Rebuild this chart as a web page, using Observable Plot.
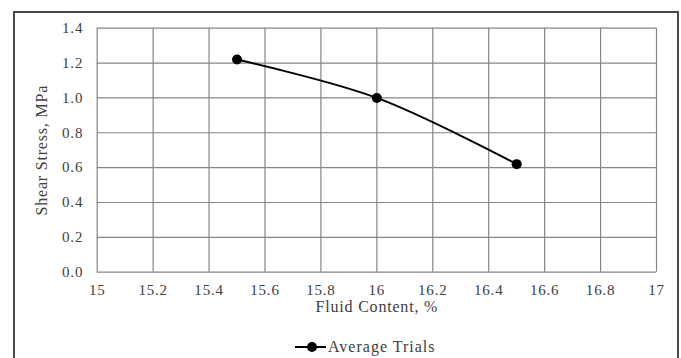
<!DOCTYPE html>
<html>
<head>
<meta charset="utf-8">
<script src="https://cdn.jsdelivr.net/npm/d3@7"></script>
<script src="https://cdn.jsdelivr.net/npm/@observablehq/plot@0.6"></script>
<style>
  body { margin: 0; background: #fff; }
  #wrap { position: relative; width: 681px; height: 358px; overflow: hidden;
          font-family: "Liberation Serif", "Times New Roman", serif; color: #404040; }
  #frame { position: absolute; left: 13px; top: 11px; width: 666px; height: 400px;
           border: 2px solid #4a4a4a; box-sizing: border-box; }
  #chart { position: absolute; left: 0; top: 0; }
  #legend { position: absolute; left: 295px; top: 337px; font-size: 16px; line-height: 20px;
            letter-spacing: 1px;
            font-family: "Liberation Serif", "Times New Roman", serif;
            display: flex; align-items: center; }
  #legend .sw { position: relative; width: 31px; height: 20px; margin-right: 2px; }
  #legend .sw .ln { position: absolute; left: 0; right: 0; top: 9px; height: 2px; background: #000; }
  #legend .sw .pt { position: absolute; left: 12px; top: 5px; width: 10px; height: 10px;
                    border-radius: 50%; background: #000; }
</style>
</head>
<body>
<div id="wrap">
  <div id="frame"></div>
  <div id="chart"></div>
  <div id="legend"><div class="sw"><div class="ln"></div><div class="pt"></div></div><span id="legendText"></span></div>
</div>
<script>
// Average trial results: fluid content (%) against shear stress (MPa)
const fluidContent = [15.5, 16.0, 16.5];
const shearStress = [1.22, 1.00, 0.62];
const seriesName = "Average Trials";

// Axis ticks
const xTicks = [15, 15.2, 15.4, 15.6, 15.8, 16, 16.2, 16.4, 16.6, 16.8, 17];
const yTicks = [0, 0.2, 0.4, 0.6, 0.8, 1.0, 1.2, 1.4];
const xTitle = "Fluid Content, %";
const yTitle = "Shear Stress, MPa";

const data = fluidContent.map((x, i) => ({x, y: shearStress[i]}));

const chart = Plot.plot({
  width: 681,
  height: 358,
  marginLeft: 96.7,
  marginRight: 25,
  marginTop: 27.7,
  marginBottom: 86.3,
  style: { fontSize: "15px", letterSpacing: "0.8px", fontFamily: "'Liberation Serif', 'Times New Roman', serif", color: "#404040", background: "transparent" },
  x: { domain: [15, 17] },
  y: { domain: [0, 1.4] },
  marks: [
    Plot.gridX(xTicks, { stroke: "#858585", strokeOpacity: 1, strokeWidth: 1.2 }),
    Plot.gridY(yTicks, { stroke: "#858585", strokeOpacity: 1, strokeWidth: 1.2 }),
    Plot.axisX(xTicks, { tickSize: 0, tickPadding: 12, label: null, tickFormat: d3.format("") }),
    Plot.axisY(yTicks, { tickSize: 0, tickPadding: 14, label: null, tickFormat: d3.format(".1f") }),
    Plot.text([xTitle], { frameAnchor: "bottom", dy: 40, fontSize: 16, fill: "#404040" }),
    Plot.text([yTitle], { frameAnchor: "left", textAnchor: "middle", dx: -55, rotate: -90, fontSize: 16, fill: "#404040" }),
    Plot.line(data, { x: "x", y: "y", curve: "catmull-rom", stroke: "#000", strokeWidth: 2 }),
    Plot.dot(data, { x: "x", y: "y", r: 5, fill: "#000" })
  ]
});
document.getElementById("chart").appendChild(chart);
document.getElementById("legendText").textContent = seriesName;
</script>
</body>
</html>
